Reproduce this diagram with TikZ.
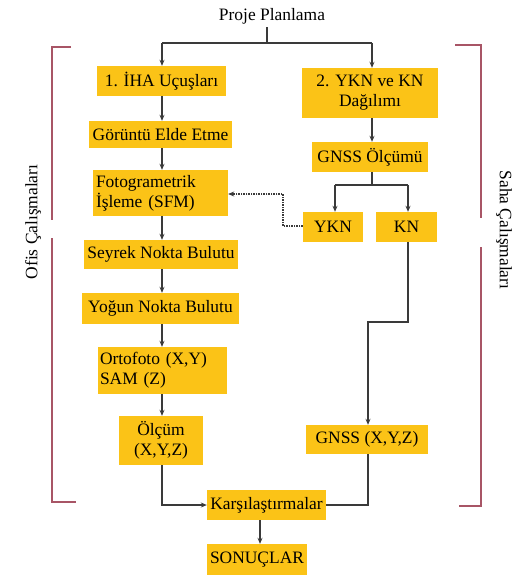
\documentclass[tikz,border=0pt]{standalone}
\usepackage{fontspec}
\setmainfont{Liberation Serif}
\usetikzlibrary{arrows.meta}
\definecolor{boxfill}{HTML}{FBC317}
\definecolor{bracketred}{HTML}{A85566}
\definecolor{linegray}{HTML}{3A3A3A}
\begin{document}
\begin{tikzpicture}[x=1bp,y=-1bp,
  font=\fontsize{17.5}{20}\selectfont,
  box/.style={fill=boxfill, draw=none, inner sep=0pt, align=center},
  leftbox/.style={fill=boxfill, draw=none, inner sep=0pt, align=left},
  conn/.style={draw=linegray, line width=1.4bp},
  arr/.style={conn, -{Stealth[length=6bp,width=5bp]}},
  dotarr/.style={draw=linegray, line width=1.4bp, dash pattern=on 1.5bp off 1bp, -{Stealth[length=6bp,width=5bp]}},
  bracket/.style={draw=bracketred, line width=1.4bp},
  side/.style={font=\fontsize{17.5}{20}\selectfont}
]
\useasboundingbox (0,0) rectangle (521,577);
\fill[white] (0,0) rectangle (521,577);

% nodes
\node (proje) at (272,16) {Proje Planlama};
\node[box, minimum width=129bp, minimum height=30bp] (iha) at (161.5,81) {1. İHA Uçuşları};
\node[box, minimum width=136bp, minimum height=50bp] (dag) at (370,93) {2. YKN ve KN\\Dağılımı};
\node[box, minimum width=143bp, minimum height=27bp] (gor) at (160.5,134.5) {Görüntü Elde Etme};
\node[leftbox, minimum width=135bp, minimum height=46bp, text width=129bp] (foto) at (160.5,193) {Fotogrametrik\\İşleme (SFM)};
\node[box, minimum width=116bp, minimum height=30bp] (gnss1) at (370,157) {GNSS Ölçümü};
\node[box, minimum width=60bp, minimum height=30bp] (ykn) at (333,227) {YKN};
\node[box, minimum width=61bp, minimum height=30bp] (kn) at (406.5,227) {KN};
\node[box, minimum width=154bp, minimum height=29bp] (seyrek) at (161,254.5) {Seyrek Nokta Bulutu};
\node[box, minimum width=157bp, minimum height=31bp] (yogun) at (160.5,308.5) {Yoğun Nokta Bulutu};
\node[leftbox, minimum width=129bp, minimum height=47bp, text width=125bp] (orto) at (162.5,370.5) {Ortofoto (X,Y)\\SAM (Z)};
\node[box, minimum width=84bp, minimum height=49bp] (olcum) at (161,440.5) {Ölçüm\\(X,Y,Z)};
\node[box, minimum width=122bp, minimum height=29bp] (gnss2) at (367,439.5) {GNSS (X,Y,Z)};
\node[box, minimum width=119bp, minimum height=30bp] (kars) at (266.5,505) {Karşılaştırmalar};
\node[box, minimum width=100bp, minimum height=31bp] (son) at (257,559.5) {SONUÇLAR};

% side labels
\node[side, rotate=90] (ofis) at (33,222) {Ofis Çalışmaları};
\node[side, rotate=-90] (saha) at (504,230) {Saha Çalışmaları};

% brackets
\draw[bracket] (71,47) -- (52,47) -- (52,220);
\draw[bracket] (52,238) -- (52,502) -- (76,502);
\draw[bracket] (455,45) -- (481,45) -- (481,218);
\draw[bracket] (481,247) -- (481,506) -- (459,506);

% connectors
\coordinate (split) at (267,43);
\draw[conn] (proje.south -| split) -- (split);
\draw[conn] (162,43) -- (372,43);
\draw[arr] (162,43) -- (iha.north -| 162,0);
\draw[arr] (372,43) -- (dag.north -| 372,0);
\draw[arr] (iha.south -| 162,0) -- (gor.north -| 162,0);
\draw[arr] (gor.south -| 162,0) -- (foto.north -| 162,0);
\draw[arr] (foto.south -| 162,0) -- (seyrek.north -| 162,0);
\draw[arr] (seyrek.south -| 162,0) -- (yogun.north -| 162,0);
\draw[arr] (yogun.south -| 162,0) -- (orto.north -| 162,0);
\draw[arr] (orto.south -| 162,0) -- (olcum.north -| 162,0);
\draw[arr] (dag.south -| 372,0) -- (gnss1.north -| 372,0);
\coordinate (gsplit) at (372,185);
\draw[conn] (gnss1.south -| gsplit) -- (gsplit);
\draw[conn] (335,185) -- (408,185);
\draw[arr] (335,185) -- (ykn.north -| 335,0);
\draw[arr] (408,185) -- (kn.north -| 408,0);
\draw[dotarr] (ykn.west |- 0,226) -- (283,226) -- (283,194) -- (foto.east |- 0,194);
\draw[arr] (kn.south -| 408,0) -- (408,322) -- (368,322) -- (gnss2.north -| 368,0);
\draw[arr] (olcum.south -| 162,0) -- (162,505) -- (kars.west);
\draw[conn] (gnss2.south -| 368,0) -- (368,505) -- (kars.east);
\draw[arr] (kars.south -| 260,0) -- (son.north -| 260,0);
\end{tikzpicture}
\end{document}
